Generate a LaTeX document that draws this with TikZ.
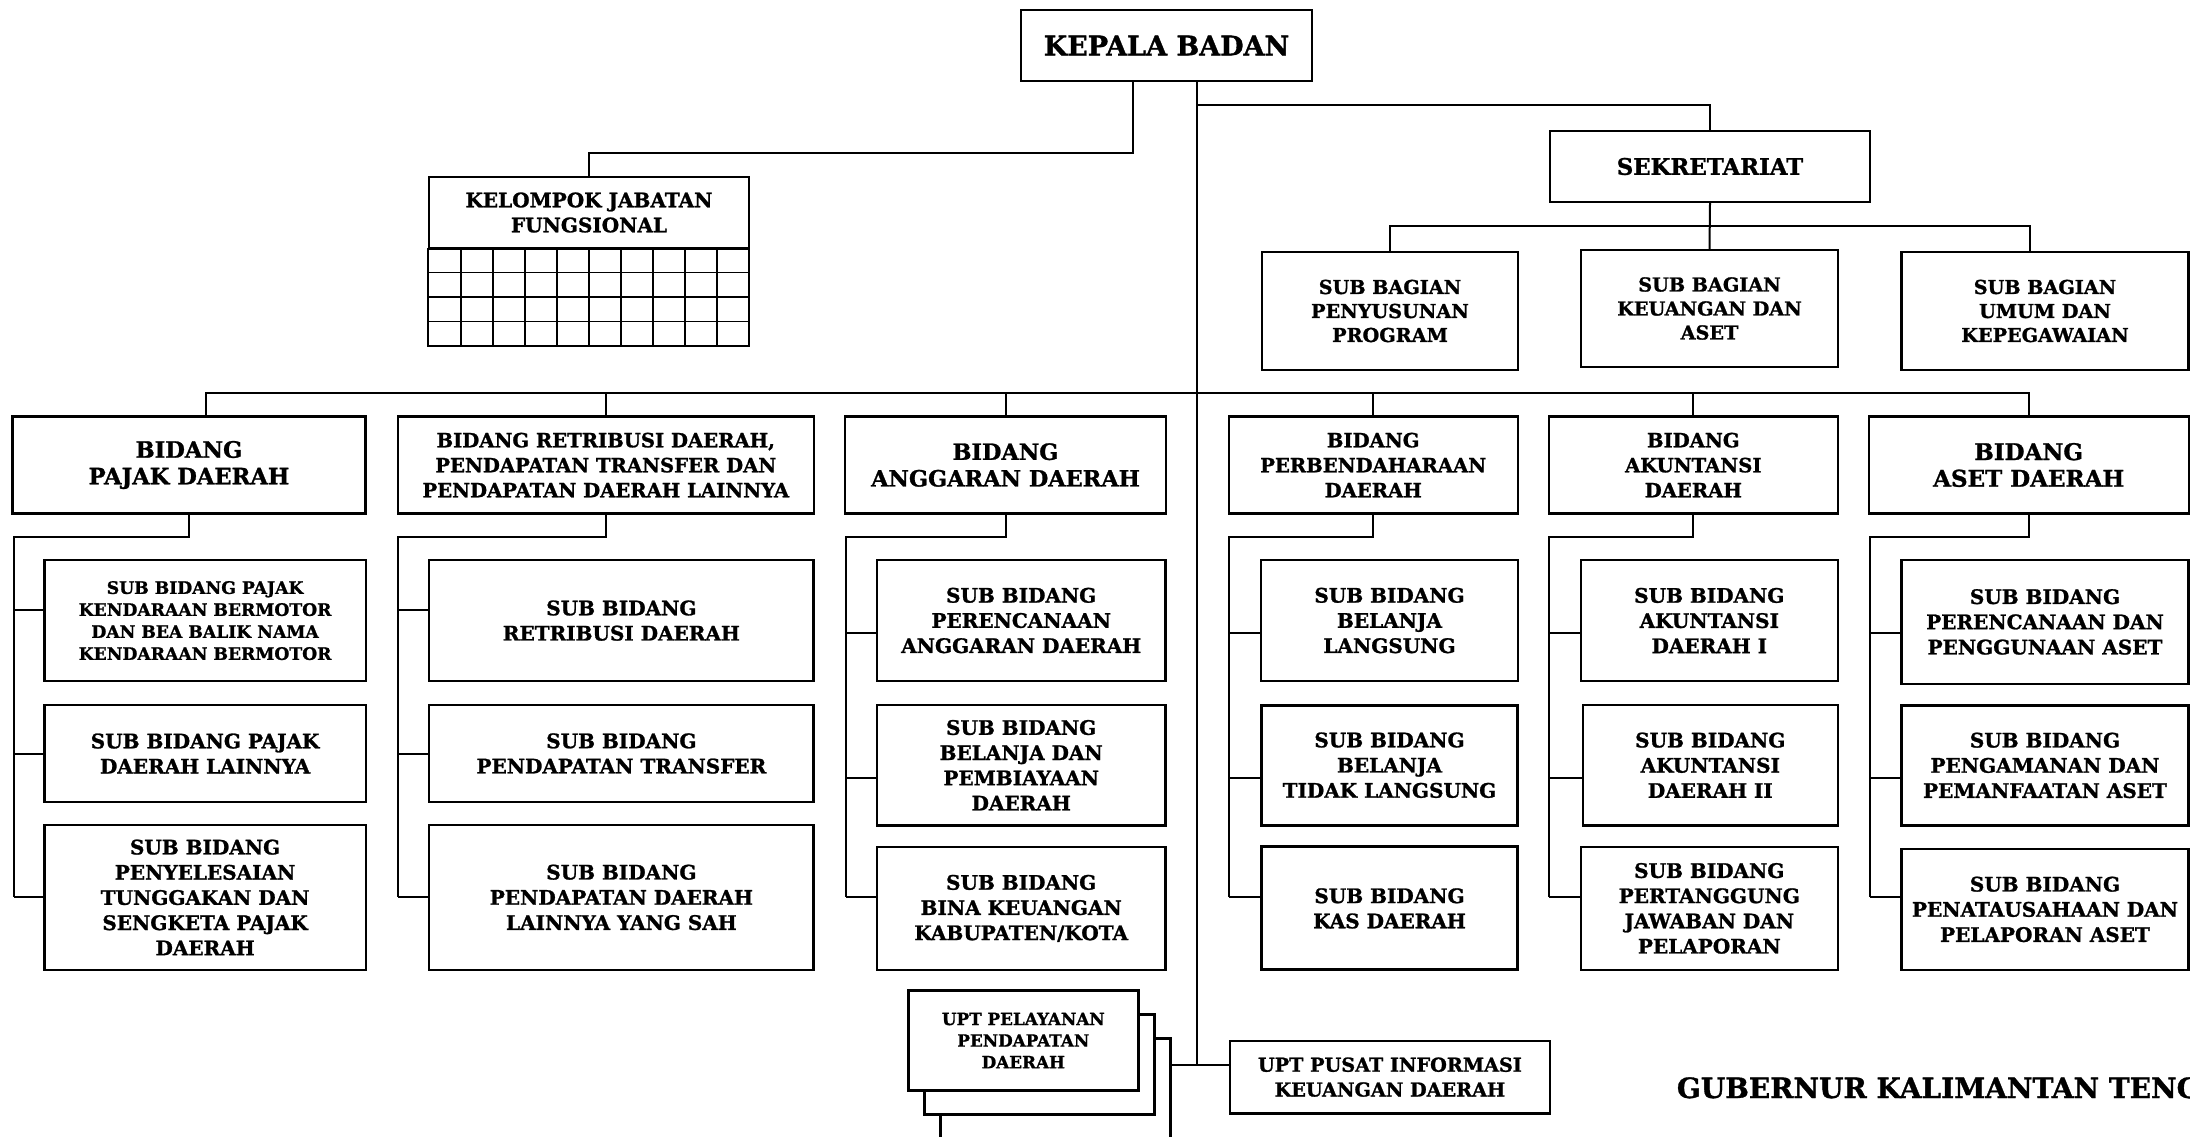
\documentclass[tikz,border=0pt]{standalone}
\usepackage{fontspec}
\setmainfont{DejaVu Serif}[BoldFeatures={FakeBold=1.2}]
\usetikzlibrary{positioning}

\begin{document}
\begin{tikzpicture}[x=0.5pt,y=-0.5pt,
        box/.style={draw,line width=1.1pt,fill=white,align=center,inner sep=1pt,font=\bfseries\fontsize{10}{12.6}\selectfont},
        bidang/.style={box,minimum height=48.5pt,font=\bfseries\fontsize{9.8}{12.5}\selectfont},
        upt/.style={box,line width=1.5pt,minimum width=114.8pt,minimum height=49.7pt,font=\bfseries\fontsize{8.4}{10.8}\selectfont},
        link/.style={line width=1pt}]
        \useasboundingbox (0,0) rectangle (2190,1136);
        % pimpinan dan sekretariat
        \node[box,minimum width=145.5pt,minimum height=35.5pt,font=\bfseries\fontsize{13.5}{16}\selectfont] (kepala) at (1166.5,45.5) {KEPALA BADAN};
        \node[box,minimum width=160pt,minimum height=35.5pt,font=\bfseries\fontsize{10}{12.5}\selectfont] (kelompok) at (589,212.5) {KELOMPOK JABATAN\\FUNGSIONAL};
        \node[box,minimum width=160pt,minimum height=35.5pt,font=\bfseries\fontsize{11.4}{14}\selectfont] (sekretariat) at (1710,166.5) {SEKRETARIAT};
        \node[box,minimum width=128pt,minimum height=59pt,font=\bfseries\fontsize{9.6}{12}\selectfont] (subbag1) at (1390,311) {SUB BAGIAN\\PENYUSUNAN\\PROGRAM};
        \node[box,minimum width=128.5pt,minimum height=58.5pt,font=\bfseries\fontsize{9.6}{12}\selectfont] (subbag2) at (1709.5,308.5) {SUB BAGIAN\\KEUANGAN DAN\\ASET};
        \node[box,minimum width=143.5pt,minimum height=59pt,font=\bfseries\fontsize{9.6}{12}\selectfont] (subbag3) at (2045,311) {SUB BAGIAN\\UMUM DAN\\KEPEGAWAIAN};
        % grid jabatan fungsional
        \draw[line width=0.8pt] (kelompok.south west) rectangle (749,345.7);
        \foreach \gx in {461,493,...,717}
            \draw[line width=0.6pt] (\gx,248) -- (\gx,345.7);
        \foreach \gy in {272.4,296.9,321.3}
            \draw[line width=0.6pt] (429,\gy) -- (749,\gy);
        % bidang
        \node[bidang,minimum width=176.5pt,font=\bfseries\fontsize{11.3}{13.3}\selectfont] (pajak) at (189,465) {BIDANG\\PAJAK DAERAH};
        \node[bidang,minimum width=208pt] (retribusi) at (605.8,465) {BIDANG RETRIBUSI DAERAH,\\PENDAPATAN TRANSFER DAN\\PENDAPATAN DAERAH LAINNYA};
        \node[bidang,minimum width=160.5pt,font=\bfseries\fontsize{11.2}{13.3}\selectfont] (anggaran) at (1005.5,465) {BIDANG\\ANGGARAN DAERAH};
        \node[bidang,minimum width=144.5pt] (perbend) at (1373.2,465) {BIDANG\\PERBENDAHARAAN\\DAERAH};
        \node[bidang,minimum width=144.3pt] (akuntansi) at (1693.3,465) {BIDANG\\AKUNTANSI\\DAERAH};
        \node[bidang,minimum width=160pt,font=\bfseries\fontsize{11.5}{13.3}\selectfont] (aset) at (2028.7,465) {BIDANG\\ASET DAERAH};
        % sub bidang pajak
        \node[box,minimum width=160.7pt,minimum height=60.7pt,font=\bfseries\fontsize{8.6}{11}\selectfont] (pjk1) at (205.1,620.6) {SUB BIDANG PAJAK\\KENDARAAN BERMOTOR\\DAN BEA BALIK NAMA\\KENDARAAN BERMOTOR};
        \node[box,minimum width=160.7pt,minimum height=48.3pt] (pjk2) at (205.1,753.5) {SUB BIDANG PAJAK\\DAERAH LAINNYA};
        \node[box,minimum width=160.7pt,minimum height=72.4pt] (pjk3) at (205.1,897.4) {SUB BIDANG\\PENYELESAIAN\\TUNGGAKAN DAN\\SENGKETA PAJAK\\DAERAH};
        % sub bidang retribusi
        \node[box,minimum width=192.1pt,minimum height=60.7pt] (ret1) at (621.4,620.6) {SUB BIDANG\\RETRIBUSI DAERAH};
        \node[box,minimum width=192.1pt,minimum height=48.3pt] (ret2) at (621.4,753.5) {SUB BIDANG\\PENDAPATAN TRANSFER};
        \node[box,minimum width=192.1pt,minimum height=72.4pt] (ret3) at (621.4,897.4) {SUB BIDANG\\PENDAPATAN DAERAH\\LAINNYA YANG SAH};
        % sub bidang anggaran
        \node[box,minimum width=144.3pt,minimum height=60.5pt] (agr1) at (1021.2,620.5) {SUB BIDANG\\PERENCANAAN\\ANGGARAN DAERAH};
        \node[box,minimum width=144.3pt,minimum height=60.2pt] (agr2) at (1021.2,765.2) {SUB BIDANG\\BELANJA DAN\\PEMBIAYAAN\\DAERAH};
        \node[box,minimum width=144.3pt,minimum height=61.5pt] (agr3) at (1021.2,908.4) {SUB BIDANG\\BINA KEUANGAN\\KABUPATEN/KOTA};
        % sub bidang perbendaharaan
        \node[box,minimum width=128.3pt,minimum height=60.5pt] (pbd1) at (1389.5,620.5) {SUB BIDANG\\BELANJA\\LANGSUNG};
        \node[box,line width=1.5pt,minimum width=128.3pt,minimum height=60.2pt] (pbd2) at (1389.5,765.2) {SUB BIDANG\\BELANJA\\TIDAK LANGSUNG};
        \node[box,line width=1.5pt,minimum width=128.3pt,minimum height=61.5pt] (pbd3) at (1389.5,908.4) {SUB BIDANG\\KAS DAERAH};
        % sub bidang akuntansi
        \node[box,minimum width=128.3pt,minimum height=60.5pt] (akt1) at (1709.3,620.5) {SUB BIDANG\\AKUNTANSI\\DAERAH I};
        \node[box,minimum width=127.3pt,minimum height=60.2pt] (akt2) at (1710.3,765.2) {SUB BIDANG\\AKUNTANSI\\DAERAH II};
        \node[box,minimum width=128.3pt,minimum height=61.5pt] (akt3) at (1709.3,908.4) {SUB BIDANG\\PERTANGGUNG\\JAWABAN DAN\\PELAPORAN};
        % sub bidang aset
        \node[box,minimum width=143.5pt,minimum height=61.9pt] (ast1) at (2045,621.9) {SUB BIDANG\\PERENCANAAN DAN\\PENGGUNAAN ASET};
        \node[box,minimum width=143.5pt,minimum height=60pt] (ast2) at (2045,765.4) {SUB BIDANG\\PENGAMANAN DAN\\PEMANFAATAN ASET};
        \node[box,minimum width=143.5pt,minimum height=60.5pt] (ast3) at (2045,909.4) {SUB BIDANG\\PENATAUSAHAAN DAN\\PELAPORAN ASET};
        % UPT
        \node[upt] (upt3) at (1055.3,1088.5) {};
        \node[upt] (upt2) at (1039.3,1064.5) {};
        \node[upt] (upt1) at (1023.3,1040.5) {UPT PELAYANAN\\PENDAPATAN\\DAERAH};
        \node[box,minimum width=159.9pt,minimum height=36.3pt,font=\bfseries\fontsize{9.6}{12.4}\selectfont] (pusat) at (1389.9,1077.1) {UPT PUSAT INFORMASI\\KEUANGAN DAERAH};
        \node[anchor=base west,inner sep=0pt,font=\bfseries\fontsize{14}{16}\selectfont] (gubernur) at (1676.5,1098) {GUBERNUR KALIMANTAN TENG};
        % garis komando
        \coordinate (trunk) at (1197.3,1064.7);
        \draw[link] (kepala.south -| trunk) -- (trunk);
        \draw[link] (kepala.south -| 1133,0) |- (kelompok.north |- 0,153.3) -- (kelompok.north);
        \draw[link] (trunk |- 0,105.3) -| (sekretariat.north);
        \draw[link] (sekretariat.south) -- (subbag2.north);
        \draw[link] (subbag1.north) |- (2029.5,226) -- (subbag3.north -| 2029.5,0);
        \draw[link] (pajak.north -| 205.5,0) |- (aset.north |- 0,393.3) -- (aset.north);
        \foreach \n in {retribusi,anggaran,perbend,akuntansi}
            \draw[link] (\n.north) -- (\n.north |- 0,393.3);
        \foreach \b/\lx/\s/\ta/\tb/\tc in {pajak/13.8/pjk/609.5/753.5/897.2, retribusi/398/ret/609.5/753.5/897.2,
                anggaran/845.6/agr/632.7/777.5/897.2, perbend/1229.3/pbd/632.7/777.5/897.2,
                akuntansi/1549/akt/632.7/777.5/897.2, aset/1869.6/ast/632.7/777.5/897.2} {
            \draw[link] (\b.south) |- (\lx,537.3) -- (\lx,\tc);
            \draw[link] (\lx,\ta) -- (\s1.west |- 0,\ta);
            \draw[link] (\lx,\tb) -- (\s2.west |- 0,\tb);
            \draw[link] (\lx,\tc) -- (\s3.west |- 0,\tc);
        }
        \draw[link] (upt3.east |- trunk) -- (pusat.west |- trunk);
    \end{tikzpicture}
\end{document}
